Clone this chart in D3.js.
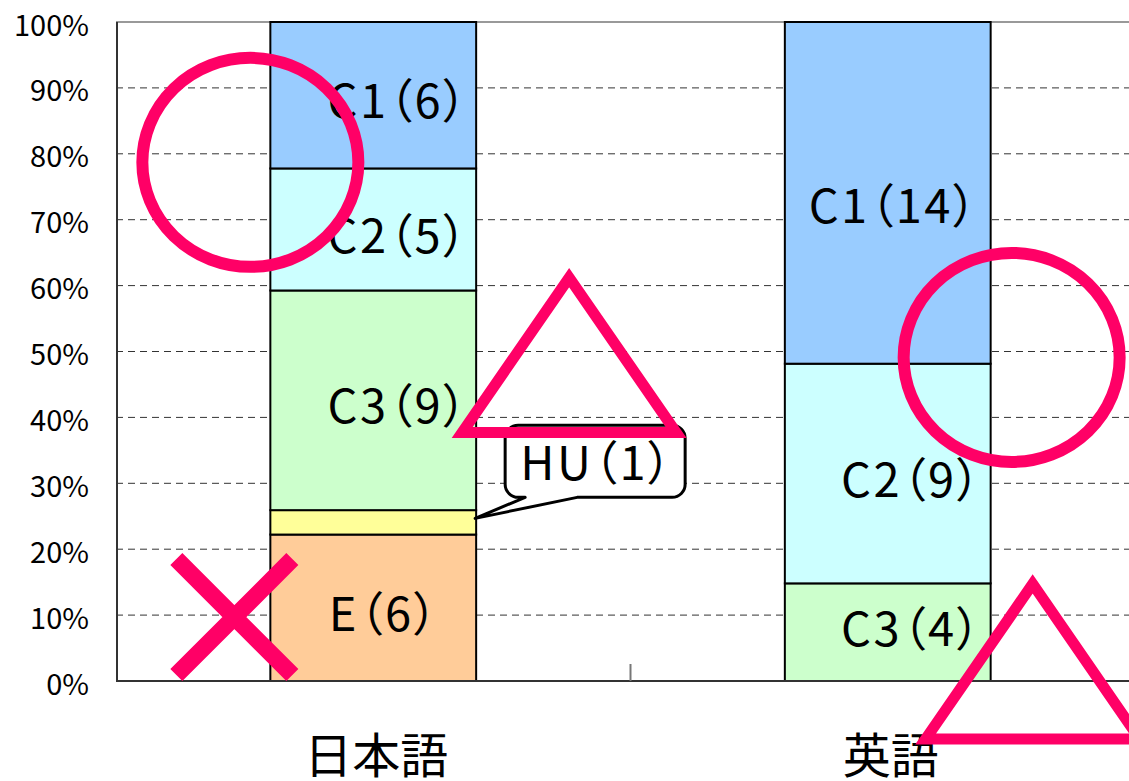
<!DOCTYPE html>
<html lang="ja">
<head>
<meta charset="UTF-8">
<title>日本語・英語 レベル構成</title>
<style>
  body { margin: 0; background: #fff; }
  svg { display: block; }
  text {
    font-family: "Noto Sans CJK JP", "Noto Sans", sans-serif;
    font-feature-settings: "palt";
    fill: #000;
  }
  .tick-label { font-size: 29px; }
  .cat-label { font-size: 48px; }
  .seg-label { font-size: 47px; letter-spacing: 2.5px; }
  .grid { stroke: #333; stroke-width: 1; stroke-dasharray: 7,5; }
  .mark { fill: none; stroke: #FF0066; }
</style>
<script src="https://d3js.org/d3.v7.min.js"></script>
</head>
<body>
<div id="chart"></div>
<script>
// data
const categories = ["日本語", "英語"];
const seriesNames = ["E", "HU", "C3", "C2", "C1"];          // bottom to top
const seriesColors = ["#FFCC99", "#FFFF99", "#CCFFCC", "#CCFFFF", "#99CCFF"];
const seriesValues = [
  [6, 0],   // E
  [1, 0],   // HU
  [9, 4],   // C3
  [5, 9],   // C2
  [6, 14]   // C1
];
const yTicks = [0, 0.1, 0.2, 0.3, 0.4, 0.5, 0.6, 0.7, 0.8, 0.9, 1];

// layout
const width = 1129, height = 781;
const plot = { left: 116, right: 1145, top: 22, bottom: 681 };

// small nudges so the labels sit where the original had them
const labelNudge = {
  "日本語|E": [11, 6], "日本語|C3": [25, 5], "日本語|C2": [25, 6], "日本語|C1": [25, 5],
  "英語|C3": [24, -4], "英語|C2": [24, 6], "英語|C1": [6, 13]
};

const rows = categories.map((c, i) => {
  const r = { cat: c };
  seriesNames.forEach((s, j) => r[s] = seriesValues[j][i]);
  return r;
});

const stacked = d3.stack().keys(seriesNames).offset(d3.stackOffsetExpand)(rows);

const x = d3.scaleBand()
  .domain(categories)
  .range([plot.left, plot.right])
  .paddingInner(0.6)
  .paddingOuter(0.3);

const y = d3.scaleLinear().domain([0, 1]).range([plot.bottom, plot.top]);
const color = d3.scaleOrdinal().domain(seriesNames).range(seriesColors);

const svg = d3.select("#chart").append("svg")
  .attr("width", width)
  .attr("height", height);

// gridlines
svg.append("g").selectAll("line")
  .data(yTicks.filter(t => t > 0 && t < 1))
  .enter().append("line")
  .attr("class", "grid")
  .attr("x1", plot.left).attr("x2", plot.right)
  .attr("y1", d => y(d)).attr("y2", d => y(d));

// top border
svg.append("line")
  .attr("x1", plot.left).attr("x2", plot.right)
  .attr("y1", y(1)).attr("y2", y(1))
  .attr("stroke", "#999").attr("stroke-width", 2);

// bars
svg.append("g").selectAll("g")
  .data(stacked)
  .enter().append("g")
  .attr("fill", d => color(d.key))
  .selectAll("rect")
  .data(d => d.map(p => Object.assign(p, { key: d.key })))
  .enter().append("rect")
  .attr("x", d => x(d.data.cat))
  .attr("width", x.bandwidth())
  .attr("y", d => y(d[1]))
  .attr("height", d => y(d[0]) - y(d[1]))
  .attr("stroke", "#000")
  .attr("stroke-width", 2);

// axes
svg.append("line")
  .attr("x1", plot.left + 1).attr("x2", plot.left + 1)
  .attr("y1", y(1)).attr("y2", y(0))
  .attr("stroke", "#333").attr("stroke-width", 2);
svg.append("line")
  .attr("x1", plot.left).attr("x2", plot.right)
  .attr("y1", y(0)).attr("y2", y(0))
  .attr("stroke", "#333").attr("stroke-width", 2);

const boundaries = [
  (x(categories[0]) + x.bandwidth() + x(categories[1])) / 2
];
svg.append("g").selectAll("line")
  .data(boundaries)
  .enter().append("line")
  .attr("x1", d => d).attr("x2", d => d)
  .attr("y1", y(0)).attr("y2", y(0) - 17)
  .attr("stroke", "#777").attr("stroke-width", 2);

const yAxis = d3.axisLeft(y)
  .tickValues(yTicks)
  .tickFormat(d3.format(".0%"))
  .tickSize(0)
  .tickPadding(28);

svg.append("g")
  .attr("transform", `translate(${plot.left + 1},0)`)
  .call(yAxis)
  .call(g => g.select(".domain").remove())
  .selectAll("text")
  .attr("class", "tick-label")
  .attr("dy", "0.45em")
  .style("font-size", null)
  .style("font-family", null);

// category labels
svg.append("g").selectAll("text")
  .data(categories)
  .enter().append("text")
  .attr("class", "cat-label")
  .attr("x", d => x(d) + x.bandwidth() / 2 + 3)
  .attr("y", 773)
  .attr("text-anchor", "middle")
  .text(d => d);

// segment labels (HU gets a callout instead)
const segs = stacked.flatMap(s => s.map(p => ({ key: s.key, cat: p.data.cat, v: p.data[s.key], y0: p[0], y1: p[1] })));

svg.append("g").selectAll("text")
  .data(segs.filter(d => d.v > 0 && d.key !== "HU"))
  .enter().append("text")
  .attr("class", "seg-label")
  .attr("text-anchor", "middle")
  .attr("x", d => x(d.cat) + x.bandwidth() / 2 + (labelNudge[d.cat + "|" + d.key] || [0, 0])[0])
  .attr("y", d => y((d.y0 + d.y1) / 2) + (labelNudge[d.cat + "|" + d.key] || [0, 0])[1])
  .attr("dy", "0.37em")
  .text(d => `${d.key}（${d.v}）`);

// HU callout
const hu = segs.find(d => d.key === "HU" && d.v > 0);
const tipX = x(hu.cat) + x.bandwidth() - 1;
const tipY = y((hu.y0 + hu.y1) / 2) - 4;
const bx1 = tipX + 30, bx2 = tipX + 210, by1 = tipY - 93, by2 = tipY - 21, r = 13;
const pb1 = tipX + 50, pb2 = tipX + 102;
const callout = d3.path();
callout.moveTo(bx1 + r, by1);
callout.lineTo(bx2 - r, by1);
callout.arcTo(bx2, by1, bx2, by1 + r, r);
callout.lineTo(bx2, by2 - r);
callout.arcTo(bx2, by2, bx2 - r, by2, r);
callout.lineTo(pb2, by2);
callout.lineTo(tipX, tipY);
callout.lineTo(pb1, by2);
callout.lineTo(bx1 + r, by2);
callout.arcTo(bx1, by2, bx1, by2 - r, r);
callout.lineTo(bx1, by1 + r);
callout.arcTo(bx1, by1, bx1 + r, by1, r);
callout.closePath();

svg.append("path")
  .attr("d", callout.toString())
  .attr("fill", "#fff")
  .attr("stroke", "#000")
  .attr("stroke-width", 3)
  .attr("stroke-linejoin", "round");

svg.append("text")
  .attr("class", "seg-label")
  .attr("text-anchor", "middle")
  .attr("x", (bx1 + bx2) / 2 + 2)
  .attr("y", (by1 + by2) / 2 + 1)
  .attr("dy", "0.37em")
  .text(`${hu.key}（${hu.v}）`);

// hand-drawn marks on top
const b1 = x(categories[0]), b2 = x(categories[1]), bw = x.bandwidth();
const marks = svg.append("g");

marks.append("ellipse").attr("class", "mark")
  .attr("cx", b1 - 20).attr("cy", y(0.787))
  .attr("rx", 108).attr("ry", 104.5)
  .attr("stroke-width", 12);

marks.append("ellipse").attr("class", "mark")
  .attr("cx", b2 + bw + 21).attr("cy", y(0.491))
  .attr("rx", 108).attr("ry", 104.5)
  .attr("stroke-width", 12);

function triangle(cx, baseY) {
  return `M${cx},${baseY - 155}L${cx + 107},${baseY}L${cx - 107},${baseY}Z`;
}
marks.append("path").attr("class", "mark")
  .attr("d", triangle(b1 + bw + 93, y(0.377)))
  .attr("stroke-width", 11)
  .attr("stroke-linejoin", "miter");

marks.append("path").attr("class", "mark")
  .attr("d", triangle(b2 + bw + 42, y(-0.088)))
  .attr("stroke-width", 11)
  .attr("stroke-linejoin", "miter");

const xc = b1 - 36, yc = y(0.097), arm = 58;
marks.append("path").attr("class", "mark")
  .attr("d", `M${xc - arm},${yc - arm}L${xc + arm},${yc + arm}M${xc + arm},${yc - arm}L${xc - arm},${yc + arm}`)
  .attr("stroke-width", 17)
  .attr("stroke-linecap", "butt");
</script>
</body>
</html>
